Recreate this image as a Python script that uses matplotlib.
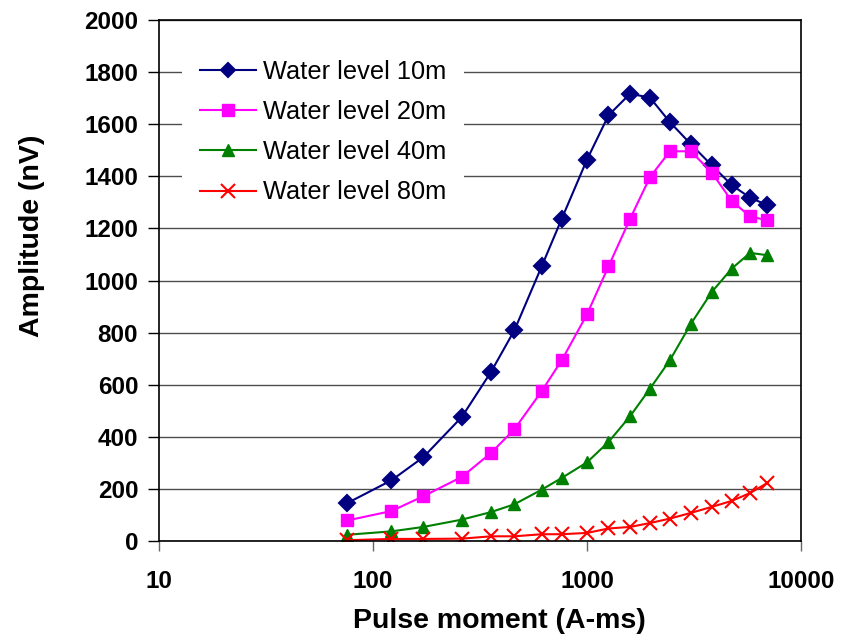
import numpy as np
import matplotlib.pyplot as plt
from matplotlib.ticker import FixedLocator, NullLocator, FormatStrFormatter

plt.rcParams['font.family'] = ['Liberation Sans', 'DejaVu Sans']

pulse_moment = [76, 122, 172, 260, 356, 458, 614, 762, 1000, 1260,
                1590, 1970, 2440, 3060, 3830, 4750, 5780, 6970]
level_10m = [146, 233, 322, 476, 649, 809, 1054, 1237, 1464, 1634,
             1717, 1702, 1608, 1523, 1442, 1366, 1318, 1289]
level_20m = [79, 115, 172, 246, 338, 429, 575, 694, 870, 1054,
             1237, 1397, 1496, 1496, 1414, 1305, 1246, 1231]
level_40m = [24, 37, 54, 82, 111, 141, 197, 242, 302, 380,
             479, 585, 694, 834, 956, 1046, 1106, 1097]
level_80m = [3, 8, 8, 9, 18, 18, 26, 26, 31, 48,
             54, 69, 86, 108, 131, 154, 184, 223]

series = [
    ("Water level 10m", level_10m, "#000080", "D", 8, 1.5),
    ("Water level 20m", level_20m, "#FF00FF", "s", 9, 0),
    ("Water level 40m", level_40m, "#008000", "^", 9, 0),
    ("Water level 80m", level_80m, "#FF0000", "x", 10, 1.5),
]

fig = plt.figure(figsize=(8.41, 6.42), dpi=100)
ax = fig.add_axes([159 / 841, 1 - 541 / 642, 642 / 841, 521 / 642])

for label, vals, color, marker, ms, mew in series:
    ax.plot(pulse_moment, vals, color=color, lw=1.5, marker=marker,
            ms=ms, mec=color, mfc=color, mew=mew if mew else 1, label=label)

ax.set_xscale("log")
ax.set_xlim(10, 10000)
ax.set_ylim(0, 2000)
ax.xaxis.set_major_locator(FixedLocator([10, 100, 1000, 10000]))
ax.xaxis.set_minor_locator(NullLocator())
ax.xaxis.set_major_formatter(FormatStrFormatter("%d"))
ax.set_yticks(np.arange(0, 2001, 200))

ax.yaxis.grid(True, color="0.3", lw=1)
ax.set_axisbelow(True)
for s in ax.spines.values():
    s.set_color("black")
    s.set_linewidth(1.2)

ax.tick_params(axis="y", direction="out", length=8, width=1, pad=7,
               labelsize=17.5)
ax.tick_params(axis="x", direction="out", length=7, width=1, pad=14,
               labelsize=17.5, color="0.4")
for t in ax.get_xticklabels() + ax.get_yticklabels():
    t.set_fontweight("bold")

ax.set_xlabel("Pulse moment (A-ms)", fontsize=20.5, fontweight="bold")
ax.set_ylabel("Amplitude (nV)", fontsize=20.5, fontweight="bold")
ax.xaxis.set_label_coords(0.53, -0.128)
ax.yaxis.set_label_coords(-0.178, 0.585)

leg = ax.legend(loc="upper left", bbox_to_anchor=(0.0358, 0.958),
                fontsize=18.3, frameon=True, fancybox=False, framealpha=1,
                edgecolor="white", facecolor="white", handlelength=2.2,
                handletextpad=0.3, labelspacing=0.64, borderpad=0.7,
                borderaxespad=0)
leg.get_frame().set_linewidth(0)
leg.legend_handles[0].set_markersize(7)

fig.savefig("out.png", dpi=100)
